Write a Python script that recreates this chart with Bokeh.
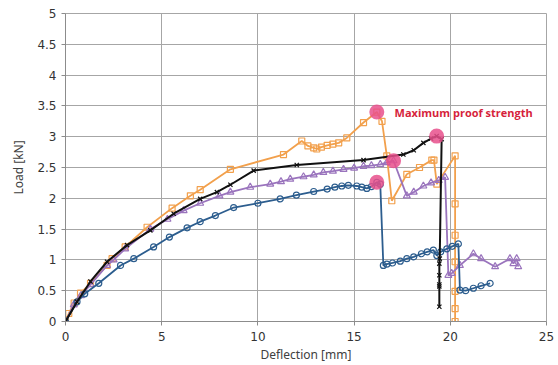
from bokeh.plotting import figure
from bokeh.models import Range1d, FixedTicker, CustomJSTickFormatter, Label
from bokeh.embed import file_html
from bokeh.resources import INLINE

# ---- data ----
orange_x = [0, 0.17, 0.45, 0.78, 1.3, 2.16, 2.42, 3.1, 4.24, 5.54, 6.49, 7.0, 8.57, 11.33, 12.28,
            12.6, 12.9, 13.06, 13.3, 13.6, 13.9, 14.2, 14.62, 15.49, 16.18, 16.45, 16.7, 16.96,
            17.74, 18.4, 19.04, 19.15, 19.3, 20.25, 20.25, 20.25, 20.25, 20.25, 20.25, 20.25]
orange_y = [0, 0.13, 0.3, 0.46, 0.62, 0.91, 1.02, 1.21, 1.53, 1.84, 2.04, 2.14, 2.47, 2.71, 2.93,
            2.85, 2.82, 2.80, 2.83, 2.86, 2.88, 2.90, 2.98, 3.23, 3.40, 3.25, 2.69, 1.96,
            2.39, 2.50, 2.62, 2.62, 2.23, 2.69, 1.91, 1.40, 0.97, 0.49, 0.21, 0.0]

black_x = [0, 0.6, 1.3, 2.16, 3.2, 4.41, 5.62, 7.0, 7.87, 8.57, 9.78, 12.02, 15.49, 17.56,
           18.1, 18.6, 19.0, 19.29, 19.55, 19.45, 19.43, 19.43, 19.43, 19.43, 19.43]
black_y = [0, 0.32, 0.65, 0.97, 1.24, 1.48, 1.75, 1.99, 2.10, 2.22, 2.45, 2.54, 2.62, 2.71,
           2.78, 2.90, 2.97, 3.01, 2.96, 1.02, 0.94, 0.75, 0.60, 0.57, 0.24]

purple_x = [0, 0.43, 0.8, 1.3, 2.16, 2.5, 3.1, 4.41, 5.3, 6.14, 7.0, 8.0, 8.57, 9.6, 10.64,
            11.2, 11.68, 12.37, 12.9, 13.4, 13.9, 14.45, 15.0, 15.49, 15.9, 16.36, 16.7, 17.05,
            17.74, 18.1, 18.6, 19.0, 19.4, 19.73, 19.9, 20.07, 20.5, 21.2, 21.6, 22.33, 23.1,
            23.28, 23.45, 23.53]
purple_y = [0, 0.27, 0.42, 0.6, 0.91, 1.0, 1.18, 1.50, 1.66, 1.80, 1.92, 2.04, 2.10, 2.18, 2.23,
            2.27, 2.31, 2.35, 2.38, 2.42, 2.44, 2.47, 2.49, 2.52, 2.53, 2.55, 2.58, 2.61,
            2.04, 2.10, 2.20, 2.25, 2.29, 2.34, 0.75, 0.78, 0.91, 1.10, 1.02, 0.89, 1.02,
            0.94, 1.02, 0.89]

blue_x = [0, 0.6, 1.0, 1.73, 2.86, 3.55, 4.58, 5.4, 6.32, 7.0, 7.79, 8.74, 10.0, 11.16, 12.0,
          12.9, 13.6, 14.0, 14.36, 14.7, 15.14, 15.4, 15.66, 15.9, 16.18, 16.36, 16.52, 16.7,
          17.0, 17.4, 17.74, 18.1, 18.5, 18.8, 19.12, 19.3, 19.5, 19.82, 20.1, 20.42, 20.5,
          20.8, 21.2, 21.6, 22.07]
blue_y = [0, 0.32, 0.45, 0.62, 0.91, 1.02, 1.21, 1.37, 1.52, 1.62, 1.72, 1.85, 1.92, 1.99, 2.05,
          2.11, 2.15, 2.18, 2.20, 2.21, 2.20, 2.18, 2.16, 2.19, 2.26, 2.23, 0.91, 0.93,
          0.95, 0.98, 1.02, 1.05, 1.10, 1.13, 1.16, 1.07, 1.13, 1.18, 1.22, 1.26, 0.51,
          0.50, 0.54, 0.58, 0.62]

peak_x = [16.18, 19.29, 17.05, 16.18]
peak_y = [3.40, 3.01, 2.61, 2.26]

x_ticks = [0, 5, 10, 15, 20, 25]
y_ticks = [0, 0.5, 1, 1.5, 2, 2.5, 3, 3.5, 4, 4.5, 5]

annotation = "Maximum proof strength"

# ---- figure ----
p = figure(width=558, height=365, output_backend="svg", toolbar_location=None,
           x_range=Range1d(0, 25), y_range=Range1d(0, 5),
           min_border_left=65, min_border_right=12, min_border_top=13, min_border_bottom=42)
p.background_fill_color = "white"
p.border_fill_color = "white"
p.outline_line_color = "#a6a6a6"

grid_col = "#a6a6a6"
for ax, ticks in ((p.xaxis, x_ticks), (p.yaxis, y_ticks)):
    ax.ticker = FixedTicker(ticks=ticks)
    ax.formatter = CustomJSTickFormatter(code="return String(tick);")
    ax.axis_line_color = "#8c8c8c"
    ax.major_tick_line_color = "#8c8c8c"
    ax.major_tick_in = 0
    ax.major_tick_out = 4
    ax.minor_tick_line_color = None
    ax.major_label_text_font = "DejaVu Sans"
    ax.major_label_text_font_size = "12px"
    ax.major_label_text_color = "#333333"
    ax.axis_label_text_font = "Noto Sans"
    ax.axis_label_text_font_size = "12px"
    ax.axis_label_text_font_style = "normal"
    ax.axis_label_text_color = "#404040"

p.xaxis.axis_label = "Deflection [mm]"
p.yaxis.axis_label = "Load [kN]"
p.xaxis.major_label_standoff = 6
p.xaxis.axis_label_standoff = 2
p.yaxis.major_label_standoff = 5
p.yaxis.axis_label_standoff = 7

p.xgrid.ticker = FixedTicker(ticks=x_ticks)
p.ygrid.ticker = FixedTicker(ticks=y_ticks)
p.xgrid.grid_line_color = grid_col
p.ygrid.grid_line_color = grid_col

orange = "#f2a04c"
black = "#111111"
purple = "#9a74bd"
blue = "#2c5d8e"

p.line(orange_x, orange_y, line_color=orange, line_width=1.8)
p.scatter(orange_x, orange_y, marker="square", size=6, line_color=orange, fill_alpha=0, line_width=1.2)

p.line(purple_x, purple_y, line_color=purple, line_width=1.8)
p.scatter(purple_x, purple_y, marker="triangle", size=7, line_color=purple, fill_alpha=0, line_width=1.2)

p.line(blue_x, blue_y, line_color=blue, line_width=1.8)
p.scatter(blue_x, blue_y, marker="circle", size=6, line_color=blue, fill_alpha=0, line_width=1.2)

p.line(black_x, black_y, line_color=black, line_width=2)
p.scatter(black_x, black_y, marker="x", size=6, line_color=black, line_width=1.2)

p.scatter(peak_x, peak_y, marker="circle", size=15, fill_color="#e8508c", fill_alpha=0.85, line_color=None)

p.add_layout(Label(x=17.1, y=3.40, text=annotation, text_baseline="middle", text_align="left",
                   text_font="Open Sans", text_font_style="bold", text_font_size="11px",
                   text_color="#d61f3c"))

open("out.html", "w").write(file_html(p, INLINE))
